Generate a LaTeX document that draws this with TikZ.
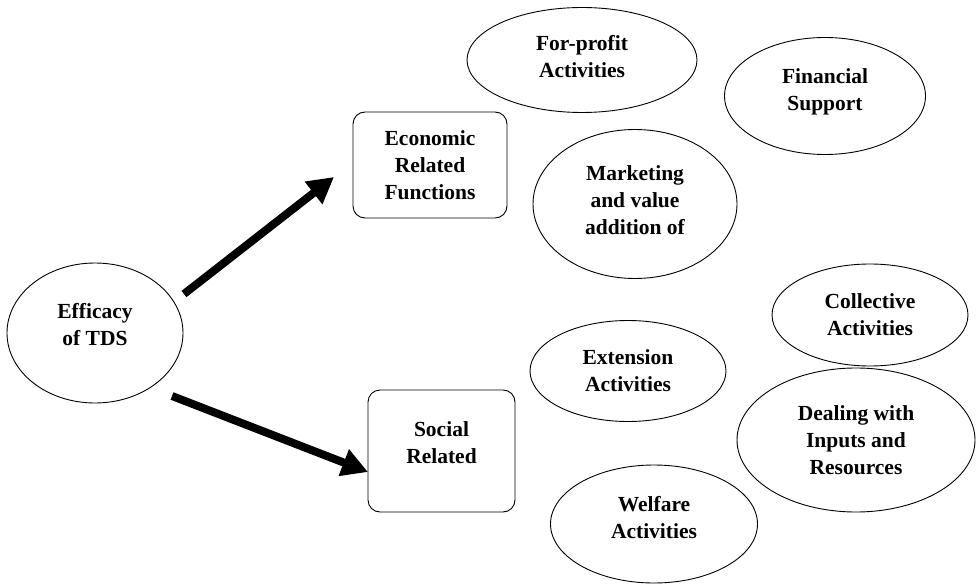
\documentclass[tikz,border=0pt]{standalone}
\usepackage{fontspec}
\setmainfont{Liberation Serif}
\usetikzlibrary{shapes.geometric,arrows.meta}
\begin{document}
\begin{tikzpicture}[x=1pt,y=-1pt,
  every node/.style={font=\fontsize{21.5}{27}\selectfont\bfseries, align=center, inner sep=0pt},
  oval/.style={ellipse, draw, line width=0.9pt},
  boxnode/.style={rectangle, rounded corners=12pt, draw, line width=0.9pt},
  bigarrow/.style={line width=8pt, -{Triangle[length=26pt,width=27pt]}}]
\useasboundingbox (0,0) rectangle (976,585);
% main ellipse
\node[oval, minimum width=176pt, minimum height=140pt] (eff) at (95,333) {};
\node (efft) at (95,325) {Efficacy\\of TDS};
% boxes
\node[boxnode, minimum width=154pt, minimum height=106pt] (eco) at (430,165) {Economic\\Related\\Functions};
\node[boxnode, minimum width=147pt, minimum height=122pt] (soc) at (441.5,451) {};
\node (soct) at (441.5,443) {Social\\Related};
% economic ovals
\node[oval, minimum width=230pt, minimum height=105pt] (fp) at (582,60) {};
\node (fpt) at (582,57) {For-profit\\Activities};
\node[oval, minimum width=201pt, minimum height=117pt] (fin) at (825,96) {};
\node (fint) at (825,92) {Financial\\Support};
\node[oval, minimum width=204pt, minimum height=149pt] (mkt) at (635,204) {};
\node (mktt) at (635,200) {Marketing\\and value\\addition of};
% social ovals
\node[oval, minimum width=196pt, minimum height=102pt] (col) at (870,315) {Collective\\Activities};
\node[oval, minimum width=196pt, minimum height=101pt] (ext) at (628,371) {Extension\\Activities};
\node[oval, minimum width=238pt, minimum height=144pt] (deal) at (856,440) {Dealing with\\Inputs and\\Resources};
\node[oval, minimum width=207pt, minimum height=118pt] (wel) at (654,524) {};
\node (welt) at (654,518) {Welfare\\Activities};
% arrows
\coordinate (a1s) at (184,294);
\coordinate (a1e) at (334,177);
\coordinate (a2s) at (172,396);
\coordinate (a2e) at (368,472);
\draw[bigarrow] (a1s) -- (a1e);
\draw[bigarrow] (a2s) -- (a2e);
\end{tikzpicture}
\end{document}
